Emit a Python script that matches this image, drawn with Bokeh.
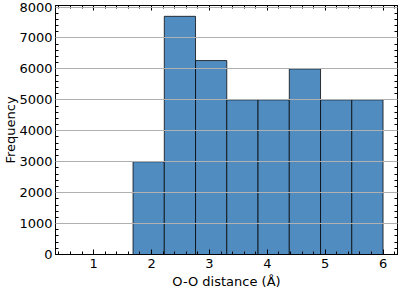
from bokeh.plotting import figure
from bokeh.models import LinearAxis, SingleIntervalTicker, Range1d, CustomLabelingPolicy
from bokeh.embed import file_html
from bokeh.resources import INLINE

# histogram data
bin_edges = [1.68, 2.22, 2.76, 3.30, 3.84, 4.38, 4.92, 5.46, 6.00]
counts = [3000, 7700, 6270, 5000, 5000, 6000, 5000, 5000]
x_label = "O-O distance (Å)"
y_label = "Frequency"

FONT = "DejaVu Sans"

p = figure(width=399, height=291, output_backend="svg", toolbar_location=None,
           x_range=Range1d(0.34, 6.25), y_range=Range1d(0, 8050),
           min_border_left=54, min_border_right=2, min_border_top=5, min_border_bottom=37)

p.quad(left=bin_edges[:-1], right=bin_edges[1:], top=counts, bottom=0,
       fill_color="#508cc0", line_color="black", line_alpha=0.75, line_width=1)

p.xgrid.visible = False
p.ygrid.grid_line_color = "#b0b0b0"
p.ygrid.grid_line_width = 1
p.ygrid.level = "overlay"

p.outline_line_color = "black"
p.outline_line_width = 1
p.background_fill_color = "white"
p.border_fill_color = "white"

p.xaxis.ticker = SingleIntervalTicker(interval=1, num_minor_ticks=5)
p.yaxis.ticker = SingleIntervalTicker(interval=1000, num_minor_ticks=5)

no_labels = "for (const i of indices) { indices.unset(i) }\nreturn indices"

def style(ax, labels=True):
    ax.major_tick_in = 5
    ax.major_tick_out = 0
    ax.minor_tick_in = 3
    ax.minor_tick_out = 0
    ax.axis_line_color = "black"
    ax.major_tick_line_color = "black"
    ax.minor_tick_line_color = "black"
    ax.major_label_text_font = FONT
    ax.major_label_text_font_size = "13px"
    ax.major_label_text_color = "black"
    ax.axis_label_text_font = FONT
    ax.axis_label_text_font_size = "13px"
    ax.axis_label_text_font_style = "normal"
    ax.axis_label_text_color = "black"
    if not labels:
        ax.major_label_policy = CustomLabelingPolicy(code=no_labels)
        ax.major_label_text_font_size = "0px"
        ax.major_label_standoff = 0

style(p.xaxis[0])
style(p.yaxis[0])
p.xaxis.axis_label = x_label
p.yaxis.axis_label = y_label
p.xaxis.major_label_standoff = 4
p.yaxis.major_label_standoff = 3
p.xaxis.axis_label_standoff = 3
p.yaxis.axis_label_standoff = -2

top = LinearAxis(ticker=SingleIntervalTicker(interval=1, num_minor_ticks=5))
right = LinearAxis(ticker=SingleIntervalTicker(interval=1000, num_minor_ticks=5))
style(top, labels=False)
style(right, labels=False)
p.add_layout(top, "above")
p.add_layout(right, "right")

open("out.html", "w").write(file_html(p, INLINE))
